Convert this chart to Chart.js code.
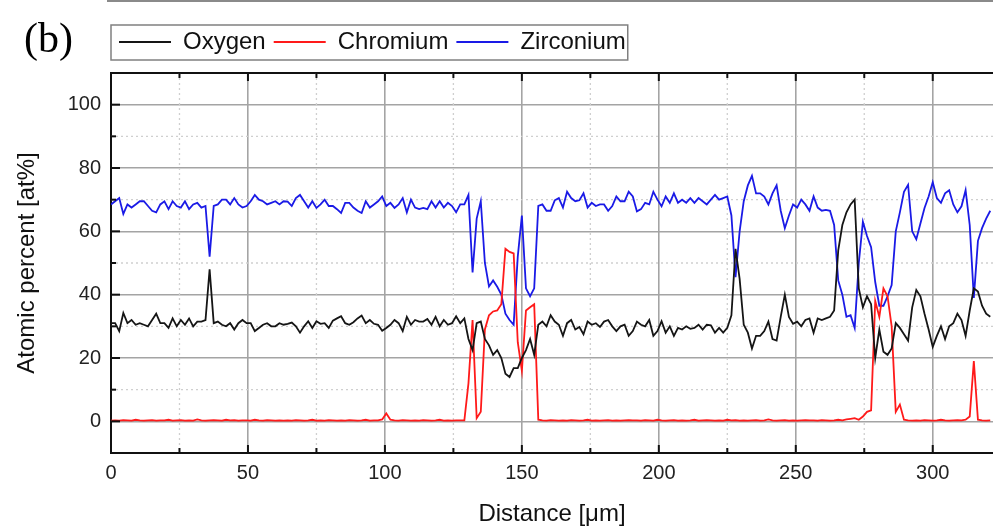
<!DOCTYPE html>
<html>
<head>
<meta charset="utf-8">
<script src="https://cdn.jsdelivr.net/npm/chart.js@4.4.1/dist/chart.umd.min.js"></script>
<style>
html, body { margin: 0; padding: 0; background: #fff; }
#wrap { width: 993px; height: 530px; position: relative; }
</style>
</head>
<body>
<div id="wrap"><canvas id="grafico"></canvas></div>
<script>
// line scan, one reading every 1.5 um
const STEP_UM = 1.5;

const oxygen = [
  31, 31, 28.5, 34.2, 31, 32, 30.5, 31, 30.5, 30, 32, 34, 31, 31, 29.5, 32.5, 30, 32, 30.5, 32.5, 30, 31.5, 31.5, 32, 48, 31, 31.5, 30.5, 30, 31, 29, 31, 32, 31, 31, 28.5, 29.5, 30.5, 31, 30, 30, 31, 30.5,
  30.8, 31.2, 30, 28, 30, 31.6, 29.5, 31.6, 30.8, 31, 29.5, 31.8, 32.5, 33.2, 31, 30.5, 31.3, 32.5, 33.4, 31, 32, 30.8, 30.5, 28.6, 29.5, 30.5, 32, 31, 28.5, 33, 30.5, 32, 31.5, 31.5, 32.3, 30.5, 33, 30, 32, 30.5, 31, 33.2, 31,
  32.5, 26, 22.5, 31, 31.5, 26, 24, 21, 22.5, 20, 15, 14, 16.8, 16.8, 20, 22.5, 26, 21, 30.5, 31.5, 30, 33.5, 31.5, 30.5, 27, 31, 32, 29, 29.8, 27.5, 31.5, 30.5, 31, 29.8, 31.5, 32, 30, 28.5, 30, 30.5, 27, 28.5,
  31.5, 30.5, 30, 32, 27, 28.5, 31.6, 28, 30, 27, 29.5, 29, 30, 29.2, 29.5, 30.5, 29, 30.5, 30.3, 28, 29.5, 28, 29.5, 33.5, 54.5, 45, 30.5, 28, 23, 27, 27, 28.5, 31.5, 26, 25.5, 33, 40, 33, 30.8, 31.5, 30, 32, 32.5,
  28, 32.5, 32, 32.5, 33, 35, 54, 62, 66, 68.5, 70, 42, 36, 39.5, 37, 20, 29, 22, 21, 23, 31, 29.5, 27.5, 25.5, 36, 41.5, 39.5, 34, 29, 23.5, 27, 30, 26, 30, 31, 34, 32, 27, 35, 42, 41, 36.5, 34, 33
];

const chromium = [
  0.2, 0.3, 0.2, 0.4, 0.3, 0.2, 0.5, 0.3, 0.2, 0.3, 0.4, 0.2, 0.3, 0.3, 0.5, 0.2, 0.3, 0.4, 0.2, 0.3, 0.2, 0.6, 0.3, 0.2, 0.3, 0.4, 0.3, 0.2, 0.5, 0.3, 0.4, 0.2, 0.3, 0.3, 0.2, 0.5, 0.3, 0.2, 0.4, 0.3, 0.2, 0.3, 0.2,
  0.3, 0.2, 0.4, 0.3, 0.2, 0.3, 0.5, 0.2, 0.3, 0.2, 0.4, 0.3, 0.2, 0.3, 0.2, 0.4, 0.3, 0.2, 0.3, 0.5, 0.2, 0.3, 0.3, 0.6, 2.5, 0.5, 0.3, 0.2, 0.4, 0.3, 0.2, 0.3, 0.2, 0.4, 0.3, 0.2, 0.3, 0.5, 0.2, 0.3, 0.2, 0.3, 0.3,
  0.3, 12, 32, 1, 3, 29, 33.5, 34.7, 35, 37, 54.5, 53.5, 53, 25, 16, 35, 36, 37, 0.5, 0.3, 0.2, 0.4, 0.3, 0.2, 0.3, 0.2, 0.4, 0.3, 0.2, 0.3, 0.5, 0.2, 0.3, 0.2, 0.3, 0.4, 0.2, 0.3, 0.2, 0.3, 0.4, 0.3,
  0.3, 0.2, 0.4, 0.3, 0.2, 0.5, 0.3, 0.2, 0.3, 0.4, 0.2, 0.3, 0.2, 0.3, 0.5, 0.2, 0.3, 0.4, 0.3, 0.2, 0.3, 0.2, 0.5, 0.3, 0.4, 0.2, 0.3, 0.2, 0.3, 0.4, 0.2, 0.3, 0.6, 0.3, 0.2, 0.3, 0.4, 0.2, 0.3, 0.2, 0.3, 0.4, 0.3,
  0.3, 0.2, 0.4, 0.3, 0.2, 0.3, 0.5, 0.3, 0.6, 0.8, 1, 0.5, 1.5, 3, 3.5, 38, 33, 42, 39.5, 30, 3, 5.3, 0.5, 0.3, 0.2, 0.3, 0.2, 0.4, 0.3, 0.2, 0.3, 0.5, 0.3, 0.2, 0.3, 0.4, 0.3, 0.5, 1.5, 19, 0.5, 0.3, 0.2, 0.3
];

const zirconium = [
  68.5, 69.5, 70.5, 65.5, 68.5, 67.5, 68.5, 69.5, 69.5, 68, 66.5, 66, 68.5, 69.5, 67, 69.5, 68, 67.5, 69.5, 67, 68.5, 69, 67.5, 68, 52, 68, 68.5, 70, 70, 68.5, 70.5, 68.5, 67.5, 68, 69.5, 71.5, 70, 69.5, 68.5, 69, 69.5, 68.5, 69.5,
  69.4, 68, 70.5, 71.5, 69.5, 67.5, 69.5, 67.4, 68.5, 70, 68, 68, 67, 65.8, 69, 69, 67.5, 66.5, 65.8, 69.5, 67.5, 68.5, 69.5, 71, 68, 69, 67.4, 68.5, 70.5, 66, 70, 67.5, 67, 67.4, 67, 69.5, 67.5, 69.5, 67.5, 69, 68, 66, 68.5,
  68.5, 71.5, 47, 64, 69.5, 50, 42.6, 44.5, 42.5, 40, 34, 32, 30.5, 52, 65, 42, 39.5, 42, 68, 68.5, 66.5, 66.5, 69.8, 70.5, 67.5, 72.5, 70.5, 69.5, 69.8, 72, 67.5, 69, 68, 68.5, 68.5, 66.5, 68, 71, 69.5, 69.5, 72.5, 71,
  66.3, 67, 69, 68.5, 72.5, 70, 67.9, 71, 69, 72, 69, 70, 69, 70.5, 69, 70.5, 69.5, 68.5, 70, 71.5, 70, 70.5, 71, 65, 45.5, 60, 69.5, 74.5, 77.5, 72, 72, 71, 68.5, 72, 74.5, 66.5, 61, 65, 68.5, 67.5, 70, 68.5, 66.5,
  71, 67.5, 66.5, 66.8, 66.5, 62, 44.5, 40, 33, 33.5, 29.5, 50, 63, 58.5, 55, 44, 36.5, 36.5, 39.5, 43, 60, 66, 72.5, 74.7, 60, 57.5, 62.5, 67.4, 71, 75.5, 70.5, 69, 72, 73, 68.5, 66, 67.9, 73, 62, 39, 57, 61, 64, 66.5
];

const distance = oxygen.map((_, i) => i * STEP_UM);

const xTicks = [0, 50, 100, 150, 200, 250, 300];
const xMinor = [25, 75, 125, 175, 225, 275];
const yTicks = [0, 20, 40, 60, 80, 100];
const yMinor = [10, 30, 50, 70, 90];

Chart.defaults.font.family = "'Liberation Sans', Arial, sans-serif";

// dotted minor grid, inward tick marks, legend frame, panel label
const adornos = {
  id: 'adornos',
  beforeDatasetsDraw(chart) {
    const {ctx, chartArea: a, scales: {x, y}} = chart;
    ctx.save();
    ctx.strokeStyle = '#cfcfcf';
    ctx.lineWidth = 1.3;
    ctx.setLineDash([2, 3]);
    xMinor.forEach(v => {
      const px = x.getPixelForValue(v);
      ctx.beginPath(); ctx.moveTo(px, a.top); ctx.lineTo(px, a.bottom); ctx.stroke();
    });
    yMinor.forEach(v => {
      const py = y.getPixelForValue(v);
      ctx.beginPath(); ctx.moveTo(a.left, py); ctx.lineTo(a.right, py); ctx.stroke();
    });
    ctx.restore();
  },
  afterDraw(chart) {
    const {ctx, chartArea: a, scales: {x, y}} = chart;
    ctx.save();
    ctx.strokeStyle = '#111';
    ctx.lineWidth = 2;
    const tick = (x1, y1, x2, y2) => { ctx.beginPath(); ctx.moveTo(x1, y1); ctx.lineTo(x2, y2); ctx.stroke(); };
    xTicks.forEach(v => {
      const px = x.getPixelForValue(v);
      tick(px, a.bottom, px, a.bottom - 8);
      tick(px, a.top, px, a.top + 8);
    });
    xMinor.forEach(v => {
      const px = x.getPixelForValue(v);
      tick(px, a.bottom, px, a.bottom - 5);
      tick(px, a.top, px, a.top + 5);
    });
    yTicks.forEach(v => { const py = y.getPixelForValue(v); tick(a.left, py, a.left + 9, py); });
    yMinor.forEach(v => { const py = y.getPixelForValue(v); tick(a.left, py, a.left + 5, py); });

    // legend frame
    const lg = chart.legend;
    if (lg && lg.legendHitBoxes.length) {
      const hb = lg.legendHitBoxes;
      const last = hb[hb.length - 1];
      ctx.strokeStyle = '#808080';
      ctx.lineWidth = 1.5;
      ctx.strokeRect(hb[0].left - 8, lg.top + 3, last.left + last.width + 10 - hb[0].left, lg.height - 7);
    }

    // edge of the panel above
    ctx.fillStyle = '#8a8a8a';
    ctx.fillRect(107, 0, chart.width - 107, 2);

    ctx.fillStyle = '#000';
    ctx.font = "42px 'Liberation Serif', 'Times New Roman', serif";
    ctx.textBaseline = 'alphabetic';
    ctx.fillText('(b)', 24, 52);
    ctx.restore();
  }
};

const canvas = document.getElementById('grafico').getContext('2d');
const chart = new Chart(canvas, {
  type: 'line',
  data: {
    labels: distance,
    datasets: [
      { label: 'Oxygen', data: oxygen, borderColor: '#151515', backgroundColor: '#151515', borderWidth: 1.8, pointRadius: 0, tension: 0 },
      { label: 'Chromium', data: chromium, borderColor: '#ff1a1a', backgroundColor: '#ff1a1a', borderWidth: 1.8, pointRadius: 0, tension: 0 },
      { label: 'Zirconium', data: zirconium, borderColor: '#1a1ae6', backgroundColor: '#1a1ae6', borderWidth: 1.8, pointRadius: 0, tension: 0 }
    ]
  },
  options: {
    responsive: true,
    maintainAspectRatio: false,
    animation: false,
    layout: { padding: { top: 22, left: 0, right: 0, bottom: 0 } },
    plugins: {
      legend: {
        position: 'top',
        align: 'start',
        fullSize: false,
        labels: { boxWidth: 52, boxHeight: 0, padding: 8, color: '#111', font: { size: 24 } }
      },
      tooltip: { enabled: false }
    },
    scales: {
      x: {
        type: 'linear',
        min: 0,
        max: 322,
        afterBuildTicks: s => { s.ticks = xTicks.map(v => ({ value: v })); },
        afterFit: s => { s.height = 77; },
        grid: { color: '#a4a4a4', lineWidth: 1.6, drawTicks: false },
        border: { color: '#111', width: 2 },
        ticks: { padding: 8, color: '#222', font: { size: 20 }, maxRotation: 0 },
        title: { display: true, text: 'Distance [μm]', color: '#111', font: { size: 24 }, padding: { top: 0, bottom: 1 } }
      },
      top: {
        type: 'linear',
        position: 'top',
        min: 0,
        max: 322,
        afterFit: s => { s.height = 9; },
        grid: { drawOnChartArea: false, drawTicks: false },
        ticks: { display: false },
        border: { color: '#111', width: 2 }
      },
      y: {
        min: -10,
        max: 110,
        afterBuildTicks: s => { s.ticks = yTicks.map(v => ({ value: v })); },
        afterFit: s => { s.width = 111; },
        grid: { color: '#a4a4a4', lineWidth: 1.6, drawTicks: false },
        border: { color: '#111', width: 2 },
        ticks: { padding: 10, color: '#222', font: { size: 20 } },
        title: { display: true, text: 'Atomic percent [at%]', color: '#111', font: { size: 24 }, padding: { top: 13, bottom: 0 } }
      }
    }
  },
  plugins: [adornos]
});
</script>
</body>
</html>
